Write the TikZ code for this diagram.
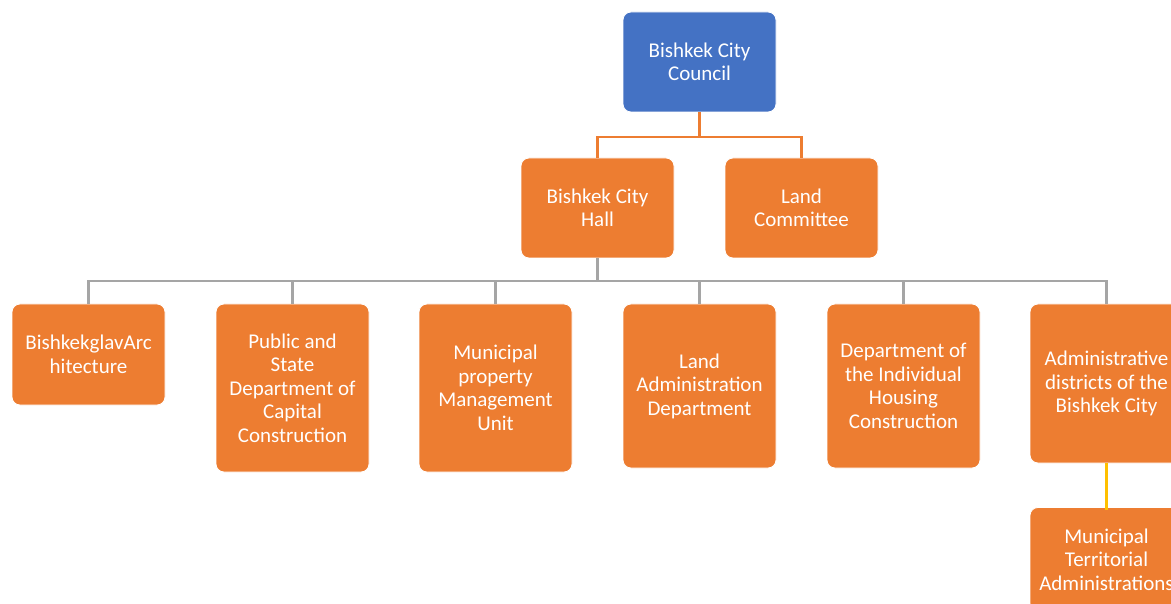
\documentclass[tikz,border=0pt]{standalone}
\usepackage{fontspec}
\setmainfont{Carlito}
\definecolor{borange}{HTML}{ED7D31}
\definecolor{bblue}{HTML}{4472C4}
\definecolor{bgray}{HTML}{A5A5A5}
\definecolor{byellow}{HTML}{FFC000}
\begin{document}
\begin{tikzpicture}[x=1pt,y=-1pt,
  box/.style={draw=white,line width=0.8pt,fill=borange,rounded corners=8pt,minimum width=153pt,text=white,align=center,inner sep=0pt,font=\fontsize{21}{23.5}\selectfont},
  oline/.style={draw=borange,line width=2.6pt},
  gline/.style={draw=bgray,line width=2.6pt},
  yline/.style={draw=byellow,line width=2.6pt}]
\useasboundingbox (0,0) rectangle (1171,604);
\clip (0,0) rectangle (1171,604);
\node[box,fill=bblue,minimum height=100pt] (council) at (699.5,62) {Bishkek City\\Council};
\node[box,minimum height=100pt] (hall) at (597.5,208) {Bishkek City\\Hall};
\node[box,minimum height=100pt] (lc) at (801.5,208) {Land\\Committee};
\node[box,minimum height=101pt] (arch) at (88.5,354.5) {BishkekglavArc\\hitecture};
\node[box,minimum height=168pt] (pub) at (292.5,388) {Public and\\State\\Department of\\Capital\\Construction};
\node[box,minimum height=168pt] (mun) at (495.5,388) {Municipal\\property\\Management\\Unit};
\node[box,minimum height=164pt] (lad) at (699.5,386) {Land\\Administration\\Department};
\node[box,minimum height=164pt] (dih) at (903.5,386) {Department of\\the Individual\\Housing\\Construction};
\node[box,minimum height=159pt] (adm) at (1106.5,383.5) {Administrative\\districts of the\\Bishkek City};
\node[box,minimum height=104pt] (mta) at (1106.5,559.5) {Municipal\\Territorial\\Administrations};
% connectors
\coordinate (j1) at (699.5,137);
\draw[oline] (council.south) -- (j1);
\draw[oline] (hall.north) |- (j1) -| (lc.north);
\coordinate (j2) at (597.5,281);
\draw[gline] (hall.south) -- (j2);
\draw[gline] (arch.north) |- (j2) -| (adm.north);
\draw[gline] (pub.north) -- (pub.north |- j2);
\draw[gline] (mun.north) -- (mun.north |- j2);
\draw[gline] (lad.north) -- (lad.north |- j2);
\draw[gline] (dih.north) -- (dih.north |- j2);
\draw[yline] (adm.south) -- ([yshift=-3pt]mta.north);
\end{tikzpicture}
\end{document}
